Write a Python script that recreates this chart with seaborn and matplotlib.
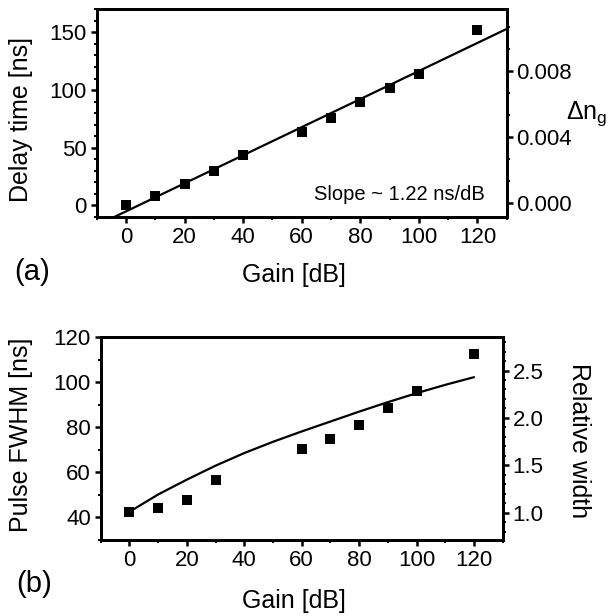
import numpy as np
import pandas as pd
import matplotlib
matplotlib.use("Agg")
import matplotlib.pyplot as plt
import seaborn as sns
from matplotlib.ticker import MultipleLocator, AutoMinorLocator, FormatStrFormatter

# panel (a): delay time vs gain
gain_a = [0, 10, 20, 30, 40, 60, 70, 80, 90, 100, 120]
delay_ns = [0.3, 7.8, 18.5, 30.3, 43.4, 64.0, 75.7, 89.6, 101.7, 114.2, 151.7]
# straight fit line, end points
fit_gain_a = [-10, 130]
fit_delay_ns = [-17.3, 153.0]

# panel (b): pulse width vs gain
gain_b = [0, 10, 20, 30, 60, 70, 80, 90, 100, 120]
fwhm_ns = [42.5, 44.0, 47.9, 56.7, 70.6, 75.0, 81.0, 88.4, 96.1, 112.5]
# calculated curve
curve_gain_b = [0, 10, 20, 30, 40, 50, 60, 70, 80, 90, 100, 110, 120]
curve_fwhm_ns = [42.5, 50.2, 56.8, 63.0, 68.6, 73.6, 78.2, 82.6, 87.0, 91.2, 95.2, 98.9, 102.3]

# right axis ranges
dng_lim = (-0.00083, 0.01172)
width_ref_ns = 42.1  # FWHM that corresponds to relative width 1

df_a = pd.DataFrame({"gain": gain_a, "delay": delay_ns})
df_a_fit = pd.DataFrame({"gain": fit_gain_a, "delay": fit_delay_ns})
df_b = pd.DataFrame({"gain": gain_b, "fwhm": fwhm_ns})
df_b_fit = pd.DataFrame({"gain": curve_gain_b, "fwhm": curve_fwhm_ns})

sns.set_style("ticks")
plt.rcParams["font.family"] = ["Liberation Sans", "DejaVu Sans"]
plt.rcParams["mathtext.fontset"] = "custom"
plt.rcParams["mathtext.rm"] = "Liberation Sans"
plt.rcParams["axes.linewidth"] = 2.0
plt.rcParams["axes.edgecolor"] = "black"
plt.rcParams["axes.labelcolor"] = "black"
plt.rcParams["text.color"] = "black"
plt.rcParams["xtick.color"] = "black"
plt.rcParams["ytick.color"] = "black"

TICK_FS = 16
LABEL_FS = 18


def style_ticks(ax):
    ax.tick_params(axis="both", which="major", direction="out", length=4,
                   width=1.8, labelsize=TICK_FS, pad=3, labelcolor="black")
    ax.tick_params(axis="both", which="minor", direction="out", length=2.5,
                   width=1.4)


fig = plt.figure(figsize=(6.15, 6.16), dpi=100)

# ---- panel (a)
ax1 = fig.add_axes([0.1572, 0.6477, 0.6667, 0.3372])
sns.lineplot(data=df_a_fit, x="gain", y="delay", color="black", lw=1.6, ax=ax1)
sns.scatterplot(data=df_a, x="gain", y="delay", marker="s", s=60, color="black",
                edgecolor="black", linewidth=0, ax=ax1, zorder=3)
ax1.set_xlim(-10, 130)
ax1.set_ylim(-10, 170)
ax1.xaxis.set_major_locator(MultipleLocator(20))
ax1.xaxis.set_minor_locator(MultipleLocator(10))
ax1.yaxis.set_major_locator(MultipleLocator(50))
ax1.yaxis.set_minor_locator(MultipleLocator(10))
style_ticks(ax1)
ax1.set_xlabel("Gain [dB]", fontsize=LABEL_FS)
ax1.set_ylabel("Delay time [ns]", fontsize=LABEL_FS)
ax1.yaxis.set_label_coords(-0.155, 0.47)
ax1.xaxis.set_label_coords(0.48, -0.22)
ax1.text(0.947, 0.106, "Slope ~ 1.22 ns/dB", transform=ax1.transAxes,
         ha="right", va="center", fontsize=14.5)

ax1r = ax1.twinx()
ax1r.set_ylim(*dng_lim)
ax1r.yaxis.set_major_locator(MultipleLocator(0.004))
ax1r.yaxis.set_minor_locator(AutoMinorLocator(3))
ax1r.yaxis.set_major_formatter(FormatStrFormatter("%.3f"))
style_ticks(ax1r)
ax1r.set_ylabel("Δn$_{\\mathregular{g}}$", fontsize=LABEL_FS, rotation=0,
                ha="left", va="center")
ax1r.yaxis.set_label_coords(1.145, 0.5)

# ---- panel (b)
ax2 = fig.add_axes([0.1637, 0.1234, 0.6537, 0.3290])
sns.lineplot(data=df_b_fit, x="gain", y="fwhm", color="black", lw=1.6, ax=ax2)
sns.scatterplot(data=df_b, x="gain", y="fwhm", marker="s", s=62, color="black",
                edgecolor="black", linewidth=0, ax=ax2, zorder=3)
ax2.set_xlim(-10, 130)
ax2.set_ylim(30, 120)
ax2.xaxis.set_major_locator(MultipleLocator(20))
ax2.xaxis.set_minor_locator(MultipleLocator(10))
ax2.yaxis.set_major_locator(MultipleLocator(20))
ax2.yaxis.set_minor_locator(MultipleLocator(10))
style_ticks(ax2)
ax2.set_xlabel("Gain [dB]", fontsize=LABEL_FS)
ax2.set_ylabel("Pulse FWHM [ns]", fontsize=LABEL_FS)
ax2.yaxis.set_label_coords(-0.168, 0.518)
ax2.xaxis.set_label_coords(0.48, -0.24)

ax2r = ax2.twinx()
ax2r.set_ylim(30 / width_ref_ns, 120 / width_ref_ns)
ax2r.yaxis.set_major_locator(MultipleLocator(0.5))
ax2r.yaxis.set_minor_locator(MultipleLocator(0.1))
ax2r.yaxis.set_major_formatter(FormatStrFormatter("%.1f"))
style_ticks(ax2r)
ax2r.set_ylabel("Relative width", fontsize=LABEL_FS, rotation=270, va="bottom")
ax2r.yaxis.set_label_coords(1.159, 0.493)

fig.text(32 / 615, 1 - 272 / 616, "(a)", fontsize=21, ha="center", va="center")
fig.text(34 / 615, 1 - 584 / 616, "(b)", fontsize=21, ha="center", va="center")

fig.savefig("out.png", dpi=100)
